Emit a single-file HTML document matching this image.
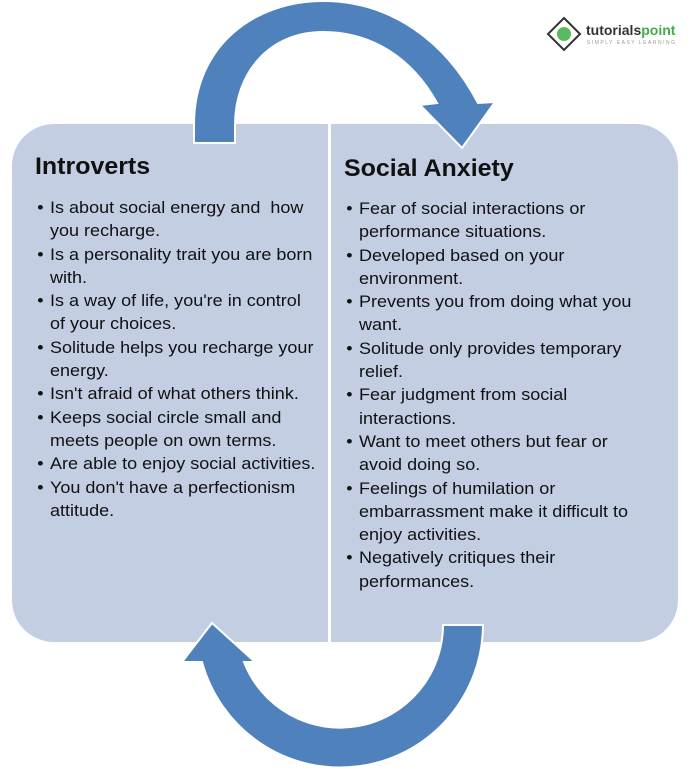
<!DOCTYPE html>
<html><head><meta charset="utf-8"><style>
html,body{margin:0;padding:0;background:#fff;}
body{width:700px;height:773px;position:relative;overflow:hidden;font-family:"Liberation Sans",sans-serif;}
.box{position:absolute;left:12px;top:124px;width:666px;height:518px;background:#c3cee3;border-radius:42px;}
.div{position:absolute;left:328px;top:124px;width:3px;height:518px;background:#fff;}
.t{position:absolute;font-weight:bold;font-size:24px;color:#111;white-space:nowrap;transform-origin:0 0;transform:scaleX(1.04);}
.col{position:absolute;font-size:17px;color:#111;white-space:nowrap;line-height:23.3px;transform-origin:0 0;transform:scaleX(1.06);}
.col div{position:relative;}
.col .b::before{content:"\2022";position:absolute;left:-12px;}
svg{position:absolute;left:0;top:0;}
</style></head><body>
<div class="box"></div>
<div class="div"></div>
<div class="t" style="left:35px;top:153px;">Introverts</div>
<div class="t" style="left:344px;top:155px;">Social Anxiety</div>
<div class="col" style="left:50px;top:196px;">
<div class="b">Is about social energy and&nbsp; how</div><div>you recharge.</div>
<div class="b">Is a personality trait you are born</div><div>with.</div>
<div class="b">Is a way of life, you're in control</div><div>of your choices.</div>
<div class="b">Solitude helps you recharge your</div><div>energy.</div>
<div class="b">Isn't afraid of what others think.</div>
<div class="b">Keeps social circle small and</div><div>meets people on own terms.</div>
<div class="b">Are able to enjoy social activities.</div>
<div class="b">You don't have a perfectionism</div><div>attitude.</div>
</div>
<div class="col" style="left:359px;top:197px;">
<div class="b">Fear of social interactions or</div><div>performance situations.</div>
<div class="b">Developed based on your</div><div>environment.</div>
<div class="b">Prevents you from doing what you</div><div>want.</div>
<div class="b">Solitude only provides temporary</div><div>relief.</div>
<div class="b">Fear judgment from social</div><div>interactions.</div>
<div class="b">Want to meet others but fear or</div><div>avoid doing so.</div>
<div class="b">Feelings of humilation or</div><div>embarrassment make it difficult to</div><div>enjoy activities.</div>
<div class="b">Negatively critiques their</div><div>performances.</div>
</div>
<svg width="700" height="773" viewBox="0 0 700 773">
<g fill="#4f81bd" stroke="#fff" stroke-width="2" stroke-linejoin="miter">
<path d="M194 143 L194 125 C194 45 255 1 323 1 C390 1 445 40 478 103 L495 102 L462 148 L420 105 L437 103 C412 58 372 32 323 32 C270 32 235 72 235 125 L235 143 Z"/>
<path d="M483 625 A143 143 0 0 1 202 662 L182 662 L212 623 L255 662 L244 662 A103 103 0 0 0 443 625 Z"/>
</g>
<g transform="translate(548,18)">
<polygon points="16,0 32,16 16,32 0,16" fill="#fff" stroke="#333" stroke-width="2"/>
<circle cx="16" cy="16" r="7" fill="#5cb85c"/>
<text x="38" y="17" font-family="Liberation Sans,sans-serif" font-weight="bold" font-size="14" fill="#333">tutorials<tspan fill="#3fae49">point</tspan></text>
<text x="39" y="26" font-family="Liberation Sans,sans-serif" font-size="5" fill="#999" letter-spacing="1.5">SIMPLY EASY LEARNING</text>
</g>
</svg>
</body></html>
